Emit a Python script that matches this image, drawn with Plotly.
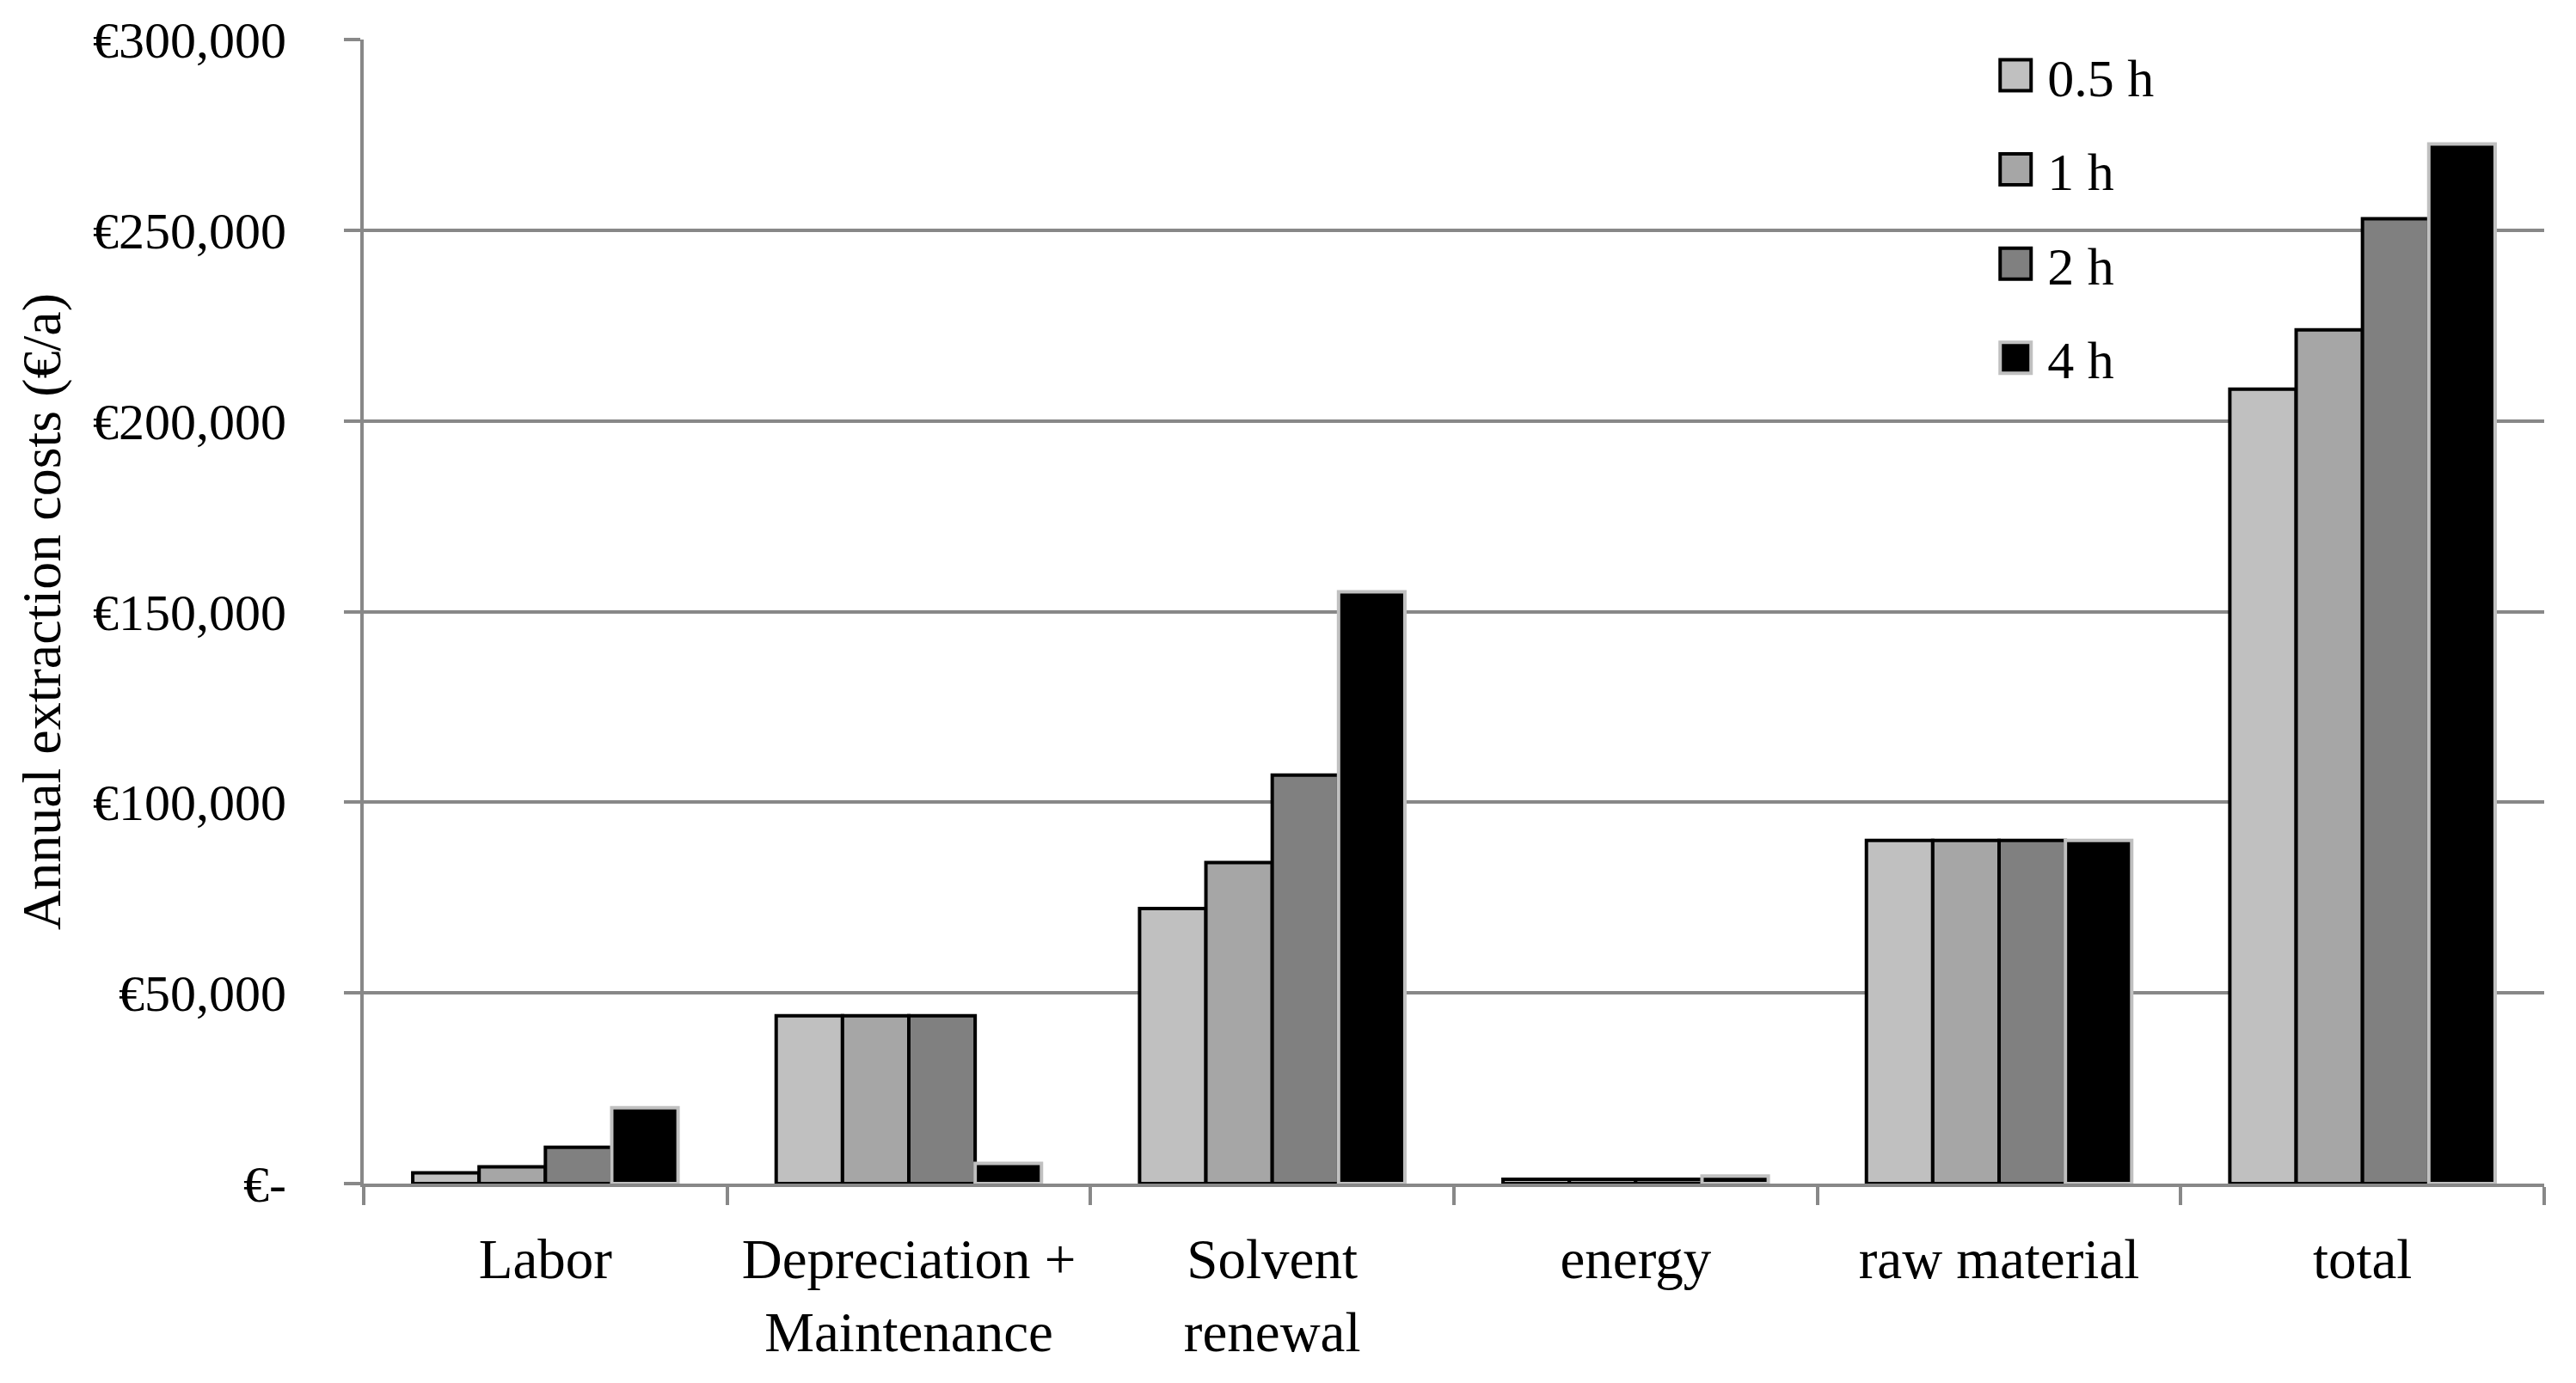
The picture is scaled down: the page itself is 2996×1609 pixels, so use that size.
import plotly.graph_objects as go

categories = ["Labor", "Depreciation +<br>Maintenance", "Solvent<br>renewal", "energy", "raw material", "total"]
series_names = ["0.5 h", "1 h", "2 h", "4 h"]
cost_05h = [2800, 44000, 72100, 1100, 90000, 208300]
cost_1h = [4400, 44000, 84200, 1100, 90000, 223900]
cost_2h = [9500, 44000, 107100, 1100, 90000, 253000]
cost_4h = [19900, 5300, 155200, 2000, 90000, 272600]
y_tick_values = [0, 50000, 100000, 150000, 200000, 250000, 300000]
y_tick_labels = ["€-", "€50,000", "€100,000", "€150,000", "€200,000", "€250,000", "€300,000"]

fill_colors = ["#c0c0c0", "#a6a6a6", "#808080", "#000000"]
line_colors = ["#000000", "#000000", "#000000", "#c0c0c0"]
series_values = [cost_05h, cost_1h, cost_2h, cost_4h]

FONT = "Liberation Serif"
GRID = "#888888"

fig = go.Figure()
for i, (name, vals) in enumerate(zip(series_names, series_values)):
    fig.add_trace(go.Bar(
        x=categories, y=vals, name=name, legendgroup=name,
        marker=dict(color=fill_colors[i], line=dict(color=line_colors[i], width=4)),
    ))

fig.update_layout(
    width=2996, height=1609, autosize=False,
    margin=dict(l=423, r=37, t=46, b=232),
    paper_bgcolor="white", plot_bgcolor="white",
    barmode="group", bargap=0.27, bargroupgap=0,
    font=dict(family=FONT, color="black", size=62),
    showlegend=True,
    legend=dict(
        x=0.743, y=1.004, xanchor="left", yanchor="top",
        bgcolor="rgba(0,0,0,0)", font=dict(family=FONT, size=62, color="black"),
        tracegroupgap=26, itemwidth=64,
    ),
    xaxis=dict(
        type="category", showline=True, linecolor=GRID, linewidth=4,
        ticks="outside", tickson="boundaries", ticklen=21, tickwidth=4, tickcolor=GRID,
        showgrid=False, tickfont=dict(family=FONT, size=65, color="black"),
        ticklabelstandoff=28,
    ),
    yaxis=dict(
        range=[0, 300000], tickvals=y_tick_values, ticktext=y_tick_labels,
        showline=True, linecolor=GRID, linewidth=4,
        ticks="outside", ticklen=19, tickwidth=4, tickcolor=GRID,
        showgrid=True, gridcolor=GRID, gridwidth=4, zeroline=False,
        tickfont=dict(family=FONT, size=60, color="black"),
        ticklabelstandoff=55,
        title=dict(text="Annual extraction costs (€/a)", font=dict(family=FONT, size=64, color="black"), standoff=18),
    ),
)

post = """
(function(){
  document.body.style.margin = '0';
  document.documentElement.style.overflow = 'hidden';
  function fixLegend(){
    var gd = document.getElementById('{plot_id}');
    if(!gd) return;
    gd.querySelectorAll('.legend .legendpoints path').forEach(function(p){
      var d = p.getAttribute('d') || '';
      if(d.indexOf('H') >= 0 || d.indexOf('h') >= 0){
        p.setAttribute('d', 'M18,18H-18V-18H18Z');
        p.style.strokeWidth = '4px';
      }
    });
  }
  fixLegend();
  var gd = document.getElementById('{plot_id}');
  if(gd && gd.on){ gd.on('plotly_afterplot', fixLegend); }
  setTimeout(fixLegend, 50);
})();
"""

fig.write_html("out.html", post_script=post, config={"displayModeBar": False, "staticPlot": True})
